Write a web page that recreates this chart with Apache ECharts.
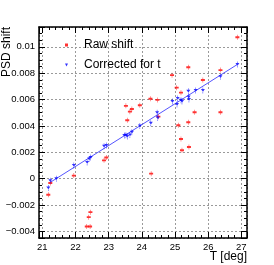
<!DOCTYPE html>
<html><head><meta charset="utf-8">
<script src="https://cdn.jsdelivr.net/npm/echarts@6/dist/echarts.min.js"></script>
<style>html,body{margin:0;padding:0;background:#fff}#c{width:274px;height:265px}</style>
</head><body><div id="c"></div>
<script>
// Raw shift (red)
const rawT = [21.18,21.24,21.95,22.34,22.40,22.44,22.45,22.86,22.93,23.52,23.56,23.64,23.70,23.94,24.26,24.28,24.47,24.50,24.91,25.05,25.10,25.18,25.18,25.21,25.40,25.40,25.42,25.59,25.84,26.37,26.37,26.88];
const rawV = [-0.00122,-0.00033,0.00023,-0.00363,-0.00292,-0.00363,-0.00254,0.00139,0.00160,0.00552,0.00443,0.00508,0.00528,0.00557,0.00606,0.00038,0.00597,0.00470,0.00785,0.00690,0.00405,0.00652,0.00301,0.00215,0.00845,0.00428,0.00240,0.00504,0.00748,0.00823,0.00504,0.01072];
// Corrected for t (blue)
const corT = [21.18,21.24,21.42,21.95,22.35,22.41,22.46,22.86,22.93,23.47,23.52,23.56,23.64,23.70,23.94,24.27,24.46,24.48,24.92,25.06,25.08,25.18,25.21,25.40,25.41,25.42,25.62,25.84,26.37,26.88];
const corV = [-0.00071,-0.00015,0.00000,0.00100,0.00122,0.00150,0.00160,0.00245,0.00252,0.00327,0.00329,0.00320,0.00331,0.00352,0.00400,0.00420,0.00500,0.00460,0.00585,0.00562,0.00608,0.00595,0.00585,0.00663,0.00620,0.00600,0.00668,0.00668,0.00772,0.00866];
// Linear fit line
const fitT = [21.24, 26.88];
const fitV = [-0.00028, 0.00866];

const xTicks = [21,22,23,24,25,26,27];
const yTicks = ['−0.004','−0.002','0','0.002','0.004','0.006','0.008','0.01'];

const zip = (a,b) => a.map((v,i)=>[v,b[i]]);
const FONT = 'Liberation Sans, Arial, sans-serif';
const fmtY = v => { if (Math.abs(v) < 1e-12) return '0'; return String(+v.toFixed(4)).replace('-', '−'); };

// marker shapes (ROOT-like markers with small vertical error bars)
const RED_SYM = 'path://M3.5,0L4.5,0L4.5,2.5L8,2.5L8,5.5L4.5,5.5L4.5,8L3.5,8L3.5,5.5L0,5.5L0,2.5L3.5,2.5Z';
const BLUE_SYM = 'path://M0,2.5L8,2.5L4,7.5L3.5,7.5L3.5,10L4.5,10L4.5,7.5ZM3.5,0L4.5,0L4.5,2.5L3.5,2.5Z';
const LEG_BLUE = 'path://M0,0L10,0L5,10Z';

const xBase = {
  type:'value', min:20.9, max:27.17, minInterval:1, maxInterval:1,
  axisLine:{show:true, onZero:false, lineStyle:{color:'#000', width:1.5}},
  axisTick:{show:true, inside:true, length:6, lineStyle:{color:'#000'}},
  minorTick:{show:true, splitNumber:5, length:3, lineStyle:{color:'#000'}},
};
const yBase = {
  type:'value', min:-0.0045, max:0.0115, minInterval:0.002, maxInterval:0.002,
  axisLine:{show:true, onZero:false, lineStyle:{color:'#000', width:1.5}},
  axisTick:{show:true, inside:true, length:6, lineStyle:{color:'#000'}},
  minorTick:{show:true, splitNumber:4, length:3, lineStyle:{color:'#000'}},
};

const chart = echarts.init(document.getElementById('c'), null, {renderer:'canvas'});
chart.setOption({
  animation:false,
  backgroundColor:'#fff',
  textStyle:{fontFamily:FONT},
  grid:{left:39, top:27, right:27, bottom:27, containLabel:false},
  xAxis:[
    Object.assign({}, xBase, {position:'bottom',
      axisLabel:{show:true, showMinLabel:false, showMaxLabel:false, color:'#000', fontSize:9.5, fontFamily:FONT, margin:4,
        formatter: v => xTicks.includes(Math.round(v*1000)/1000) ? String(Math.round(v)) : ''},
      splitLine:{show:true, lineStyle:{color:'#9a9a9a', type:[2,2], width:1}}}),
    Object.assign({}, xBase, {position:'top', axisLabel:{show:false}, splitLine:{show:false}})
  ],
  yAxis:[
    Object.assign({}, yBase, {position:'left',
      axisLabel:{show:true, showMinLabel:false, showMaxLabel:false, color:'#000', fontSize:9.5, fontFamily:FONT, margin:4,
        formatter: v => { const s = fmtY(v); return yTicks.includes(s) ? s : ''; }},
      splitLine:{show:true, lineStyle:{color:'#9a9a9a', type:[2,2], width:1}}}),
    Object.assign({}, yBase, {position:'right', axisLabel:{show:false}, splitLine:{show:false}})
  ],
  legend:{
    show:true, orient:'vertical', left:60, top:34, itemWidth:3, itemHeight:3, itemGap:8,
    textStyle:{color:'#000', fontSize:12, fontFamily:FONT, padding:[0,0,0,11]},
    data:[{name:'Raw shift', icon:'rect'}, {name:'Corrected for t', icon:LEG_BLUE}]
  },
  graphic:[
    {type:'text', left:1, top:27, rotation:Math.PI/2,
      style:{text:'PSD shift', font:'12px ' + FONT, fill:'#000'}},
    {type:'text', right:27, top:251,
      style:{text:'T [deg]', font:'12px ' + FONT, fill:'#000'}}
  ],
  series:[
    {name:'Raw shift', type:'scatter', data:zip(rawT, rawV), symbol:RED_SYM, symbolSize:[4,5],
      itemStyle:{color:'#ff0000'}, z:3},
    {name:'Corrected for t', type:'scatter', data:zip(corT, corV), symbol:BLUE_SYM, symbolSize:[4,6],
      itemStyle:{color:'#0000ff'}, z:4},
    {name:'fit', type:'line', data:zip(fitT, fitV), symbol:'none', lineStyle:{color:'#5555ff', width:1}, z:2}
  ]
});
</script></body></html>
